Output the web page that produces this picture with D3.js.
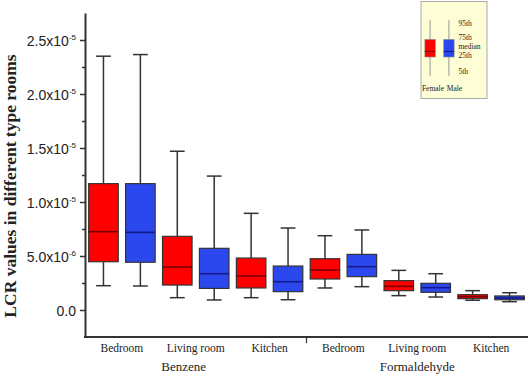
<!DOCTYPE html>
<html>
<head>
<meta charset="utf-8">
<script src="https://cdn.jsdelivr.net/npm/d3@7"></script>
<style>
  body { margin: 0; background: #fff; }
  svg { display: block; font-family: "Liberation Serif", "Times New Roman", serif; }
</style>
</head>
<body>
<div id="chart"></div>
<script>
// data, values in units of 1e-6
var groups = ["Benzene", "Formaldehyde"];
var rooms = ["Bedroom", "Living room", "Kitchen"];
var sexes = ["Female", "Male"];

var femaleP5  = [2.25, 1.14, 1.14, 2.04, 1.33, 0.90];
var femaleQ1  = [4.47, 2.31, 2.04, 2.87, 1.79, 1.05];
var femaleMed = [7.25, 3.98, 3.15, 3.70, 2.19, 1.23];
var femaleQ3  = [11.7, 6.82, 4.81, 4.75, 2.72, 1.42];
var femaleP95 = [23.5, 14.7, 8.95, 6.88, 3.67, 1.79];

var maleP5  = [2.22, 0.93, 0.95, 2.16, 1.20, 0.77];
var maleQ1  = [4.42, 2.00, 1.70, 3.09, 1.64, 0.95];
var maleMed = [7.19, 3.36, 2.62, 4.01, 2.07, 1.11];
var maleQ3  = [11.7, 5.71, 4.07, 5.15, 2.47, 1.30];
var maleP95 = [23.65, 12.4, 7.59, 7.41, 3.36, 1.60];

var tickValues = [0, 5, 10, 15, 20, 25];
var tickMantissa = ["0.0", "5.0", "1.0", "1.5", "2.0", "2.5"];
var tickExponent = ["", "-6", "-5", "-5", "-5", "-5"];

var legendLabels = ["95th", "75th", "median", "25th", "5th"];

var svgWidth = 531;
var svgHeight = 378;

var svg = d3.select("#chart")
  .append("svg")
  .attr("width", svgWidth)
  .attr("height", svgHeight);

var plotLeft = 85, plotRight = 528, plotTop = 13, plotBottom = 337;

// one slot per group+room
var slots = [];
groups.forEach(function(g) {
  rooms.forEach(function(r) { slots.push(g + "|" + r); });
});

var xSlot = d3.scaleBand().domain(slots).range([plotLeft, plotRight]);
var xSex = d3.scaleBand().domain(sexes).range([0, xSlot.bandwidth()])
  .paddingInner(0.2).paddingOuter(0.1);
var xGroup = d3.scaleBand().domain(groups).range([plotLeft, plotRight]);

var y = d3.scaleLinear().domain([-2.5, 27.5]).range([plotBottom, plotTop]);

var colors = { Female: "#ff0000", Male: "#2b48ee" };
var medColors = { Female: "#7a0000", Male: "#141a8a" };

// build box records
var boxes = [];
slots.forEach(function(s, i) {
  boxes.push({ slot: s, sex: "Female", p5: femaleP5[i], q1: femaleQ1[i], med: femaleMed[i], q3: femaleQ3[i], p95: femaleP95[i] });
  boxes.push({ slot: s, sex: "Male", p5: maleP5[i], q1: maleQ1[i], med: maleMed[i], q3: maleQ3[i], p95: maleP95[i] });
});

var boxG = svg.append("g").selectAll("g")
  .data(boxes)
  .enter()
  .append("g")
  .attr("transform", d => `translate(${xSlot(d.slot) + xSex(d.sex)}, 0)`);

var bw = xSex.bandwidth();

// whiskers
boxG.append("line")
  .attr("x1", bw / 2).attr("x2", bw / 2)
  .attr("y1", d => y(d.p95)).attr("y2", d => y(d.q3))
  .attr("stroke", "#333").attr("stroke-width", 1.5);
boxG.append("line")
  .attr("x1", bw / 2).attr("x2", bw / 2)
  .attr("y1", d => y(d.q1)).attr("y2", d => y(d.p5))
  .attr("stroke", "#333").attr("stroke-width", 1.5);
boxG.append("line")
  .attr("x1", bw / 4).attr("x2", bw * 3 / 4)
  .attr("y1", d => y(d.p95)).attr("y2", d => y(d.p95))
  .attr("stroke", "#333").attr("stroke-width", 1.5);
boxG.append("line")
  .attr("x1", bw / 4).attr("x2", bw * 3 / 4)
  .attr("y1", d => y(d.p5)).attr("y2", d => y(d.p5))
  .attr("stroke", "#333").attr("stroke-width", 1.5);

// boxes
boxG.append("rect")
  .attr("x", 0)
  .attr("width", bw)
  .attr("y", d => y(d.q3))
  .attr("height", d => y(d.q1) - y(d.q3))
  .attr("fill", d => colors[d.sex])
  .attr("stroke", "#333")
  .attr("stroke-width", 1.2);

boxG.append("line")
  .attr("x1", 0).attr("x2", bw)
  .attr("y1", d => y(d.med)).attr("y2", d => y(d.med))
  .attr("stroke", d => medColors[d.sex]).attr("stroke-width", 1.6);

// y axis
var yAxis = svg.append("g")
  .attr("transform", `translate(${plotLeft}, 0)`)
  .call(d3.axisLeft(y).tickValues(tickValues).tickSize(5).tickSizeOuter(0).tickFormat(() => ""));

var yMinor = svg.append("g")
  .attr("transform", `translate(${plotLeft}, 0)`)
  .call(d3.axisLeft(y).tickValues([2.5, 7.5, 12.5, 17.5, 22.5]).tickSize(3).tickSizeOuter(0).tickFormat(""));
yMinor.select(".domain").remove();

svg.selectAll(".domain").attr("stroke", "#333").attr("stroke-width", 2);
svg.selectAll(".tick line").attr("stroke", "#333").attr("stroke-width", 1.5);

yAxis.selectAll(".tick text").remove();
var labelG = yAxis.selectAll(".tick")
  .append("text")
  .attr("x", -9)
  .attr("dy", "0.36em")
  .attr("text-anchor", "end")
  .attr("fill", "#222")
  .attr("font-size", 14);
labelG.each(function(d, i) {
  var t = d3.select(this);
  t.append("tspan").text(tickMantissa[i] + (tickExponent[i] ? "x10" : ""));
  if (tickExponent[i]) {
    t.append("tspan").attr("font-size", 8).attr("dy", "-0.75em").text(tickExponent[i]);
  }
});

// x axis
svg.append("line")
  .attr("x1", plotLeft - 1).attr("x2", plotRight)
  .attr("y1", plotBottom).attr("y2", plotBottom)
  .attr("stroke", "#333").attr("stroke-width", 2);

svg.append("line")
  .attr("x1", xGroup("Formaldehyde")).attr("x2", xGroup("Formaldehyde"))
  .attr("y1", plotBottom).attr("y2", plotBottom + 6)
  .attr("stroke", "#333").attr("stroke-width", 1.2);

svg.append("g").selectAll("text")
  .data(slots)
  .enter()
  .append("text")
  .attr("x", d => xSlot(d) + xSlot.bandwidth() / 2)
  .attr("y", plotBottom + 15)
  .attr("text-anchor", "middle")
  .attr("font-size", 11.5)
  .attr("fill", "#222")
  .text(d => d.split("|")[1]);

svg.append("g").selectAll("text")
  .data(groups)
  .enter()
  .append("text")
  .attr("x", d => xGroup(d) + xGroup.bandwidth() / 2 - (d === "Benzene" ? 12 : 0))
  .attr("y", plotBottom + 34)
  .attr("text-anchor", "middle")
  .attr("font-size", 13)
  .attr("fill", "#222")
  .text(d => d);

// y title
svg.append("text")
  .attr("transform", "translate(16, 186) rotate(-90)")
  .attr("text-anchor", "middle")
  .attr("font-size", 17.5)
  .attr("font-weight", "bold")
  .attr("fill", "#222")
  .text("LCR values in different type rooms");

// legend (schematic, not to scale)
var legend = svg.append("g");
legend.append("rect")
  .attr("x", 421).attr("y", 1.5)
  .attr("width", 66).attr("height", 97)
  .attr("fill", "#fdfdd6")
  .attr("stroke", "#aaa");

var lx = d3.scaleBand().domain(sexes).range([423, 456]).paddingInner(0.45).paddingOuter(0.1);

var lg = legend.selectAll(".lbox")
  .data(sexes)
  .enter()
  .append("g")
  .attr("transform", d => `translate(${lx(d)}, 0)`);

lg.append("line")
  .attr("x1", lx.bandwidth() / 2).attr("x2", lx.bandwidth() / 2)
  .attr("y1", 20).attr("y2", 76)
  .attr("stroke", "#999").attr("stroke-width", 1);
lg.append("rect")
  .attr("x", 0).attr("width", lx.bandwidth())
  .attr("y", 39.5).attr("height", 17.5)
  .attr("fill", d => colors[d])
  .attr("stroke", "#888").attr("stroke-width", 0.6);
lg.append("line")
  .attr("x1", 0).attr("x2", lx.bandwidth())
  .attr("y1", 51.5).attr("y2", 51.5)
  .attr("stroke", d => medColors[d]).attr("stroke-width", 1.2);
lg.append("text")
  .attr("x", d => d === "Female" ? -3 : 3)
  .attr("y", 91)
  .attr("font-size", 7.5)
  .attr("fill", "#222")
  .text(d => d);

legend.selectAll(".ltext")
  .data(legendLabels)
  .enter()
  .append("text")
  .attr("x", 458.5)
  .attr("y", (d, i) => [23.3, 37.7, 46.7, 55.7, 71.7][i])
  .attr("dy", "0.35em")
  .attr("font-size", 7.5)
  .attr("fill", "#222")
  .text(d => d);
</script>
</body>
</html>
